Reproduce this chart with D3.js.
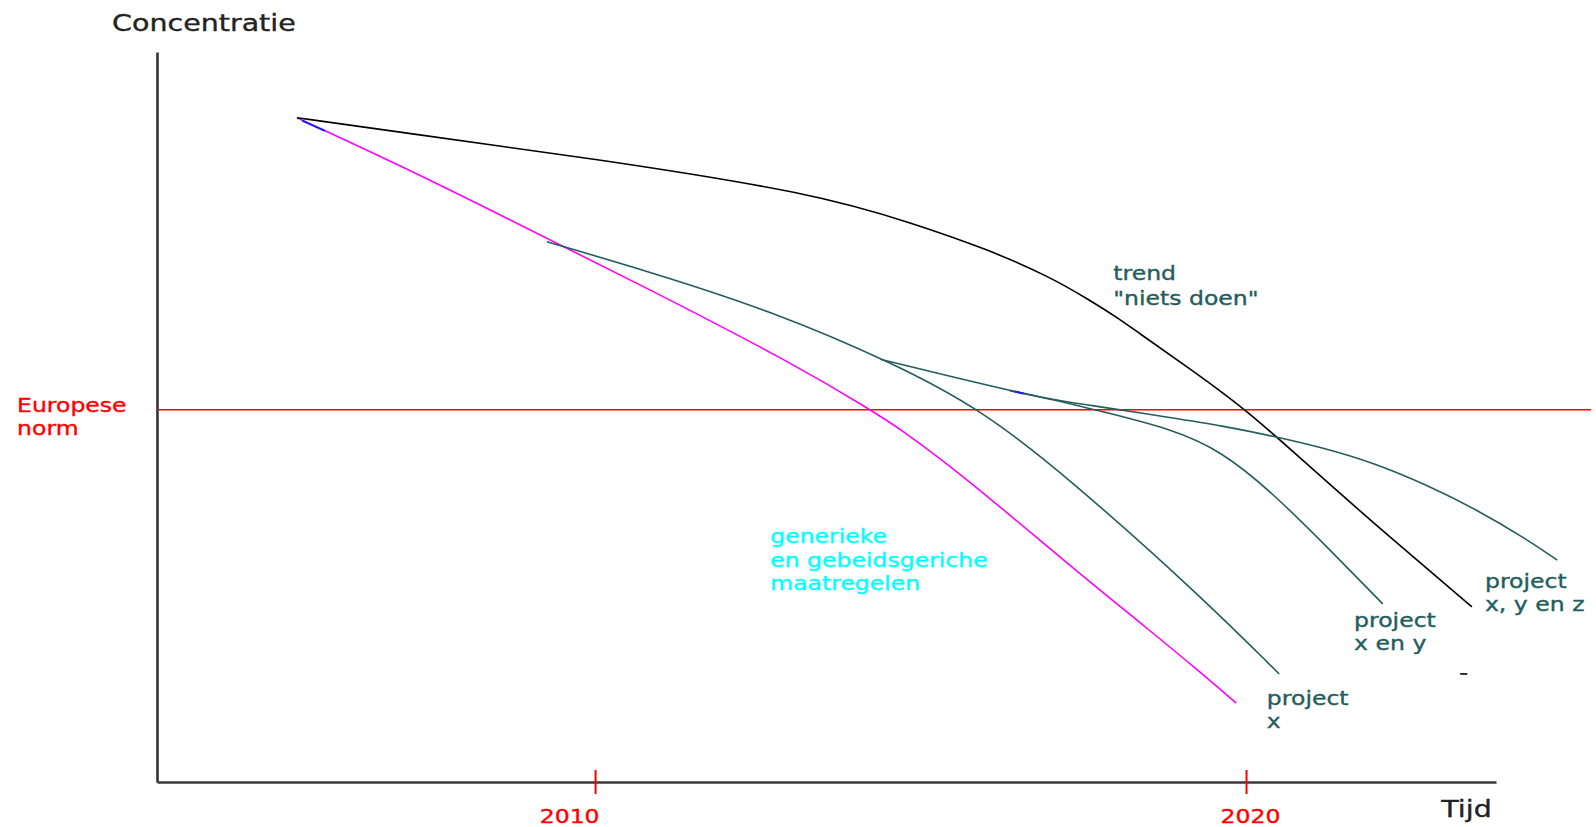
<!DOCTYPE html>
<html>
<head>
<meta charset="utf-8">
<script src="https://cdn.jsdelivr.net/npm/d3@7/dist/d3.min.js"></script>
<style>
  html, body { margin: 0; padding: 0; background: #ffffff; }
  svg { display: block; }
  text { font-family: "DejaVu Sans", Verdana, sans-serif; }
</style>
</head>
<body>
<svg id="chart" width="1596" height="827"></svg>
<script>
// ---- data (years on x, concentration on y, arbitrary units) ----
const tickYears = [2010, 2020];
const normValue = 51;

// trend "niets doen"
const trendYears  = [2005.42, 2007.0, 2009.92, 2013.36, 2014.93, 2016.02, 2016.99, 2017.60, 2018.06, 2018.29, 2019.14, 2020.0, 2020.83, 2021.90, 2023.47];
const trendValues = [91.0, 89.0, 85.5, 80.7, 76.4, 73.0, 69.2, 66.0, 63.4, 61.9, 56.6, 51.0, 44.4, 35.9, 24.0];

// generieke en gebiedsgerichte maatregelen (magenta)
const genYears  = [2005.42, 2007.0, 2008.54, 2010.84, 2013.15, 2014.22, 2014.69, 2015.71, 2017.28, 2018.53, 2019.29, 2019.85];
const genValues = [91.0, 84.5, 77.7, 67.5, 56.8, 51.0, 48.4, 41.6, 29.7, 20.7, 15.1, 10.8];

// project x
const pxYears  = [2009.26, 2010.84, 2012.75, 2014.58, 2015.94, 2017.28, 2019.29, 2020.51];
const pxValues = [74.0, 69.9, 64.4, 57.4, 51.0, 41.6, 25.6, 14.8];

// project x en y
const pxyYears  = [2014.38, 2016.37, 2017.14, 2017.76, 2018.85, 2019.63, 2020.41, 2021.29, 2022.10];
const pxyValues = [57.9, 53.6, 52.2, 50.8, 48.4, 45.3, 39.6, 31.8, 24.4];

// project x, y en z (branches off project x en y)
const pxyzYears  = [2016.37, 2017.14, 2017.76, 2018.85, 2019.63, 2020.41, 2021.18, 2021.97, 2022.75, 2023.53, 2024.32, 2024.78];
const pxyzValues = [53.6, 52.2, 51.4, 49.9, 48.8, 47.4, 45.8, 43.7, 40.8, 37.4, 33.2, 30.4];

// small blue marks in the drawing
const blueYears  = [[2005.50, 2005.85], [2016.45, 2016.58]];
const blueValues = [[90.6, 89.2], [53.5, 53.2]];

// stray dash
const dashYears = [2023.29, 2023.40];
const dashValues = [14.8, 14.8];

// labels
const labelTrend = ["trend", "\"niets doen\""];
const labelGen   = ["generieke", "en gebeidsgeriche", "maatregelen"];
const labelPx    = ["project", "x"];
const labelPxy   = ["project", "x en y"];
const labelPxyz  = ["project", "x, y en z"];
const labelNorm  = ["Europese", "norm"];
const labelY = "Concentratie";
const labelX = "Tijd";

// ---- drawing ----
const svg = d3.select("#chart");
const x = d3.scaleLinear().domain([2003.27, 2023.84]).range([157, 1496]);
const y = d3.scaleLinear().domain([0, 100]).range([782, 52]);

const TEAL = "#245d5d";
const SX = 1.24;

const line = d3.line().x(d => x(d[0])).y(d => y(d[1])).curve(d3.curveBasis);
const zip = (a, b) => a.map((v, i) => [v, b[i]]);

// Europese norm line
svg.append("line")
  .attr("x1", x(2003.3)).attr("x2", x(2025.3))
  .attr("y1", y(normValue)).attr("y2", y(normValue))
  .attr("stroke", "#ff0000").attr("stroke-width", 1.6);

// axes
const yAxis = svg.append("g")
  .attr("transform", `translate(${x(2003.27)},0)`)
  .call(d3.axisLeft(y).tickValues([]).tickSizeOuter(0));
yAxis.select(".domain").attr("stroke", "#333").attr("stroke-width", 2.6);

const xAxis = svg.append("g")
  .attr("transform", `translate(0,${y(0)})`)
  .call(d3.axisBottom(x).tickValues(tickYears).tickSizeOuter(0).tickSizeInner(12).tickFormat(d3.format("d")));
xAxis.select(".domain").attr("stroke", "#3a3a3a").attr("stroke-width", 2.6);
xAxis.selectAll(".tick line").attr("stroke", "#ff0000").attr("stroke-width", 2).attr("y1", -12).attr("y2", 12);
xAxis.selectAll(".tick text")
  .attr("fill", "#ff0000")
  .attr("stroke", "#ff0000").attr("stroke-width", 0.35)
  .attr("font-size", 19)
  .attr("font-family", "DejaVu Sans, sans-serif")
  .attr("y", 41).attr("dy", 0)
  .attr("x", 4 / SX)
  .attr("text-anchor", d => d === 2010 ? "end" : "middle")
  .attr("transform", `scale(${SX},1)`);

// curves
function drawCurve(xs, vs, color) {
  svg.append("path")
    .datum(zip(xs, vs))
    .attr("fill", "none")
    .attr("stroke", color)
    .attr("stroke-width", 1.6)
    .attr("d", line);
}
drawCurve(genYears, genValues, "#ff00ff");
drawCurve(trendYears, trendValues, "#000000");
drawCurve(pxYears, pxValues, TEAL);
drawCurve(pxyYears, pxyValues, TEAL);
drawCurve(pxyzYears, pxyzValues, TEAL);

blueYears.forEach((ys, i) => {
  svg.append("path").datum(zip(ys, blueValues[i]))
    .attr("fill", "none").attr("stroke", "#1a1aff").attr("stroke-width", 2)
    .attr("d", d3.line().x(d => x(d[0])).y(d => y(d[1])));
});
svg.append("path").datum(zip(dashYears, dashValues))
  .attr("fill", "none").attr("stroke", "#000").attr("stroke-width", 1.6)
  .attr("d", d3.line().x(d => x(d[0])).y(d => y(d[1])));

// labels
function label(lines, yr, val, color, size, lh) {
  const g = svg.append("g")
    .attr("transform", `translate(${x(yr)},${y(val)}) scale(${SX},1)`);
  const t = g.append("text").attr("fill", color).attr("font-size", size)
    .attr("stroke", color).attr("stroke-width", 0.35);
  lines.forEach((s, i) => {
    t.append("tspan").attr("x", 0).attr("y", i * lh).text(s);
  });
}
label([labelY], 2002.58, 102.9, "#222", 23, 0);
label([labelX], 2023.0, -4.8, "#222", 23, 0);
label(labelNorm, 2001.12, 50.7, "#ff0000", 19, 23.5);
label(labelTrend, 2017.96, 68.7, TEAL, 19, 24.5);
label(labelGen, 2012.69, 32.7, "#00ffff", 19, 23.5);
label(labelPxyz, 2023.67, 26.6, TEAL, 19, 23);
label(labelPxy, 2021.66, 21.2, TEAL, 19, 23);
label(labelPx, 2020.32, 10.5, TEAL, 19, 23);
</script>
</body>
</html>
